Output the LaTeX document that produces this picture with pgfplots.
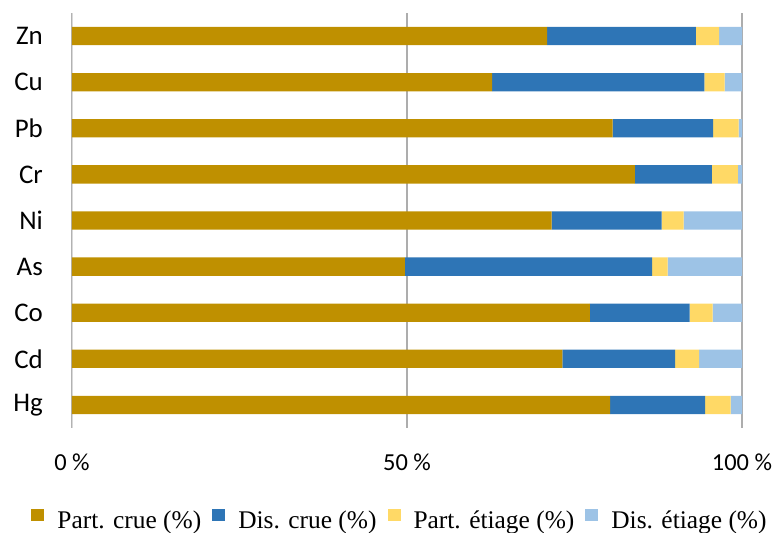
\documentclass[border=0pt]{standalone}
\usepackage{pgfplots}
\pgfplotsset{compat=1.18}
\usepackage{pgfplotstable}
\usepackage{fontspec}
\setmainfont{Carlito}
\newfontfamily\legfont{Liberation Serif}

\definecolor{partcrue}{HTML}{BF9000}
\definecolor{discrue}{HTML}{2E75B6}
\definecolor{partetiage}{HTML}{FFD966}
\definecolor{disetiage}{HTML}{9DC3E6}

% pos 0 = Hg (bottom) ... 8 = Zn (top)
\pgfplotstableread{
pos pcrue dcrue petiage detiage
0   80.3  14.2  3.8     1.7
1   73.2  16.8  3.6     6.4
2   77.3  14.9  3.4     4.4
3   49.7  36.9  2.3     11.1
4   71.6  16.4  3.3     8.7
5   84.0  11.5  3.9     0.6
6   80.7  15.0  3.8     0.5
7   62.7  31.7  3.0     2.6
8   70.9  22.2  3.5     3.4
}\metaux

\begin{document}
\begin{tikzpicture}
\begin{axis}[
  scale only axis,
  width=670bp, height=415bp,
  xbar stacked,
  bar width=18.3bp,
  xmin=0, xmax=100,
  ymin=-0.5, ymax=8.5,
  xtick={0,50,100},
  xticklabels={0 \%,50 \%,100 \%},
  ytick={0,1,2,3,4,5,6,7,8},
  yticklabels={Hg,Cd,Co,As,Ni,Cr,Pb,Cu,Zn},
  major tick length=0pt,
  axis line style={draw=none},
  xmajorgrids,
  grid style={color=black!32, line width=1.1bp},
  xticklabel style={font=\fontsize{24.5}{29}\selectfont, inner ysep=0pt, anchor=north, yshift=-26bp},
  yticklabel style={font=\fontsize{27}{32}\selectfont, inner xsep=0pt, anchor=east, xshift=-29bp},
  legend columns=4,
  legend style={
    draw=none, fill=none,
    at={(rel axis cs:0.5,0)}, anchor=center,
    xshift=-8bp, yshift=-91.5bp,
    font=\legfont\fontsize{25.5}{30}\selectfont,
    nodes={inner sep=0pt},
    /tikz/every even column/.append style={column sep=11bp},
    /tikz/every odd column/.append style={column sep=13bp},
  },
  legend image code/.code={\fill[#1] (0bp,-1bp) rectangle (13bp,11.5bp);},
]
\addplot[fill=partcrue, draw=none] table[x=pcrue, y=pos] {\metaux};
\addlegendentry{Part. crue (\%)}
\addplot[fill=discrue, draw=none] table[x=dcrue, y=pos] {\metaux};
\addlegendentry{Dis. crue (\%)}
\addplot[fill=partetiage, draw=none] table[x=petiage, y=pos] {\metaux};
\addlegendentry{Part. étiage (\%)}
\addplot[fill=disetiage, draw=none] table[x=detiage, y=pos] {\metaux};
\addlegendentry{Dis. étiage (\%)}
\draw[color=black!15, line width=1.1bp] (axis cs:0,-0.5) -- (axis cs:0,8.5);
\path (rel axis cs:0,0) ++(-72bp,-105bp) coordinate (bl);
\path (rel axis cs:1,1) ++(34bp,13bp) coordinate (tr);
\end{axis}
\pgfresetboundingbox
\path[use as bounding box] (bl) rectangle (tr);
\end{tikzpicture}
\end{document}
